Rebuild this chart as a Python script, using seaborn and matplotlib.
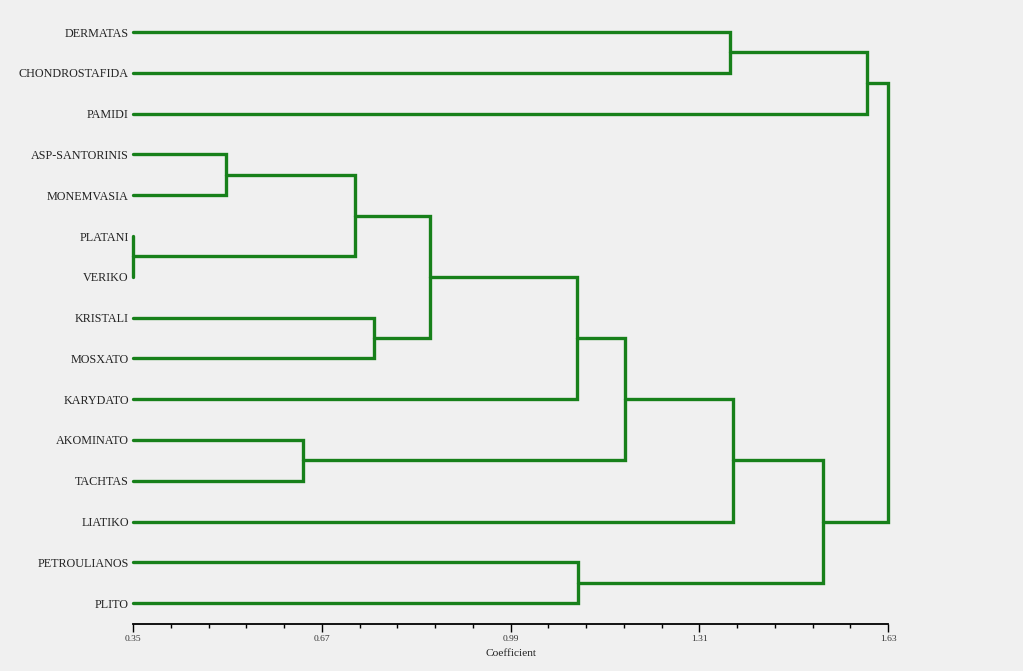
import numpy as np
import pandas as pd
import matplotlib
matplotlib.use("Agg")
import matplotlib.pyplot as plt
import seaborn as sns
from matplotlib.ticker import FixedLocator

# leaves, top to bottom
leaves = ["DERMATAS", "CHONDROSTAFIDA", "PAMIDI", "ASP-SANTORINIS", "MONEMVASIA",
          "PLATANI", "VERIKO", "KRISTALI", "MOSXATO", "KARYDATO", "AKOMINATO",
          "TACHTAS", "LIATIKO", "PETROULIANOS", "PLITO"]

# merges: node ids 15.. (left child, right child, coefficient)
merge_left = [5, 3, 10, 16, 7, 18, 20, 13, 21, 0, 23, 25, 24, 27]
merge_right = [6, 4, 11, 15, 8, 19, 9, 14, 17, 1, 12, 22, 2, 26]
merge_height = [0.35, 0.508, 0.638, 0.726, 0.759, 0.854, 1.103, 1.105,
                1.184, 1.362, 1.367, 1.520, 1.595, 1.63]

tick_major = [0.35, 0.67, 0.99, 1.31, 1.63]
x_min, x_max = 0.35, 1.63

green = "#17801a"
bg = "#f0f0f0"

# build U-shaped segments of the dendrogram
n = len(leaves)
pos = {i: float(i) for i in range(n)}
hgt = {i: x_min for i in range(n)}
rows = []
for k, (a, b, h) in enumerate(zip(merge_left, merge_right, merge_height)):
    node = n + k
    pts = [(hgt[a], pos[a]), (h, pos[a]), (h, pos[b]), (hgt[b], pos[b])]
    for x, y in pts:
        rows.append({"seg": k, "x": x, "y": y})
    pos[node] = (pos[a] + pos[b]) / 2
    hgt[node] = h
segs = pd.DataFrame(rows)

sns.set_theme(style="white")
plt.rcParams["font.family"] = ["Liberation Serif", "DejaVu Serif"]

fig = plt.figure(figsize=(10.23, 6.71), dpi=100, facecolor=bg)
ax = fig.add_axes([133 / 1023, 47 / 671, 755 / 1023, 612 / 671])
ax.set_facecolor(bg)

sns.lineplot(data=segs, x="x", y="y", units="seg", estimator=None, sort=False,
             color=green, lw=2.4, ax=ax)
for ln in ax.lines:
    ln.set_clip_on(False)
    ln.set_solid_joinstyle("miter")

ax.set_xlim(x_min, x_max)
ax.set_ylim((624 - 32) / 40.8, (12 - 32) / 40.8)

ax.set_yticks(range(n))
ax.set_yticklabels(leaves, fontsize=8.7, color="#222222")
ax.tick_params(axis="y", length=0, pad=3)

ax.set_xticks(tick_major)
ax.set_xticklabels([f"{t:.2f}" for t in tick_major], fontsize=6.8, color="#333333")
minor_step = (tick_major[1] - tick_major[0]) / 5
ax.xaxis.set_minor_locator(FixedLocator(np.arange(x_min, x_max + 1e-9, minor_step)))
ax.tick_params(axis="x", which="major", length=6, width=1, color="black",
               direction="out", pad=2, bottom=True)
ax.tick_params(axis="x", which="minor", length=3, width=1, color="black",
               direction="out", bottom=True)

for side in ["top", "left", "right"]:
    ax.spines[side].set_visible(False)
ax.spines["bottom"].set_color("black")
ax.spines["bottom"].set_linewidth(1.3)

ax.set_xlabel("Coefficient", fontsize=8.2, color="#222222", labelpad=4)
ax.set_ylabel("")

fig.savefig("out.png", dpi=100, facecolor=bg)
